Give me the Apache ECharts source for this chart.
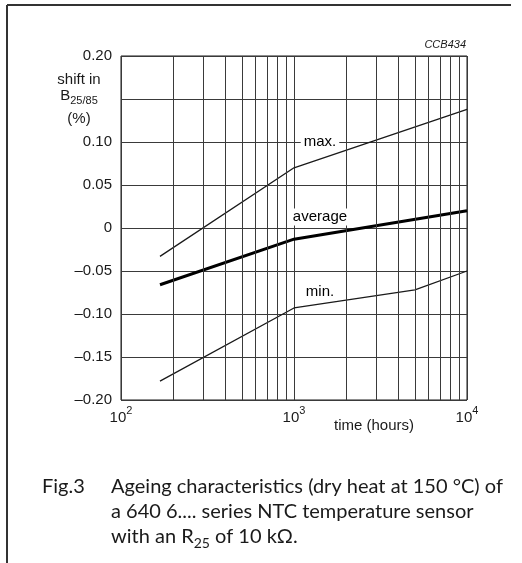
<!DOCTYPE html>
<html>
<head>
<meta charset="utf-8">
<script src="https://cdn.jsdelivr.net/npm/echarts@6/dist/echarts.min.js"></script>
<style>
  html, body { margin: 0; padding: 0; background: #fff; }
  #chart { width: 522px; height: 563px; }
</style>
</head>
<body>
<div id="chart"></div>
<script>
// values (time in hours, shift in %)
const maxHours = [168, 1000, 10000];
const maxShift = [-0.033, 0.070, 0.138];

const avgHours = [168, 1000, 10000];
const avgShift = [-0.066, -0.013, 0.020];

const minHours = [168, 1000, 5000, 10000];
const minShift = [-0.178, -0.093, -0.072, -0.050];

// log-paper minor grid lines
const minorGridHours = [200, 300, 400, 500, 600, 700, 800, 900,
  2000, 3000, 4000, 5000, 6000, 7000, 8000, 9000];

// the 0.15 tick is left unlabelled (axis title sits there)
const hiddenYTicks = [0.15];

const curveLabels = [
  { name: 'max.', hours: 1413, shift: 0.100 },
  { name: 'average', hours: 1413, shift: 0.0128 },
  { name: 'min.', hours: 1413, shift: -0.0744 }
];

const INK = '#1a1a1a';
const GRID = '#3a3a3a';
const SANS = '"Liberation Sans", Arial, sans-serif';
const CAPTION = 'Lato, sans-serif';

const chart = echarts.init(document.getElementById('chart'));

function pairs(xs, ys) {
  return xs.map((x, i) => [x, ys[i]]);
}

const option = {
  animation: false,
  backgroundColor: '#fff',
  grid: {
    left: 121,
    right: 55,
    top: 56,
    bottom: 163,
    show: true,
    borderColor: INK,
    borderWidth: 1
  },
  xAxis: {
    type: 'log',
    logBase: 10,
    min: 100,
    max: 10000,
    interval: 1,
    axisLine: { show: false },
    axisTick: { show: false },
    splitLine: { show: true, lineStyle: { color: GRID, width: 1 } },
    axisLabel: {
      margin: 5,
      color: INK,
      formatter: v => '{b|10}{s|' + Math.round(Math.log10(v)) + '}',
      rich: {
        b: { fontFamily: SANS, fontSize: 15, lineHeight: 20, verticalAlign: 'bottom', color: INK },
        s: { fontFamily: SANS, fontSize: 11, lineHeight: 13, verticalAlign: 'top', color: INK }
      }
    }
  },
  yAxis: {
    type: 'value',
    min: -0.2,
    max: 0.2,
    interval: 0.05,
    axisLine: { show: false },
    axisTick: { show: false },
    splitLine: { show: true, lineStyle: { color: GRID, width: 1 } },
    axisLabel: {
      margin: 9,
      color: INK,
      fontFamily: SANS,
      fontSize: 15,
      formatter: v => {
        if (hiddenYTicks.some(h => Math.abs(h - v) < 1e-9)) return '';
        if (Math.abs(v) < 1e-9) return '0';
        return (v < 0 ? '\u2013' : '') + Math.abs(v).toFixed(2);
      }
    }
  },
  series: [
    {
      name: 'grid',
      type: 'line',
      data: [],
      z: 1,
      silent: true,
      markLine: {
        silent: true,
        symbol: 'none',
        label: { show: false },
        lineStyle: { color: GRID, width: 1, type: 'solid' },
        data: minorGridHours.map(h => ({ xAxis: h }))
      }
    },
    {
      name: 'max.',
      type: 'line',
      data: pairs(maxHours, maxShift),
      showSymbol: false,
      z: 3,
      lineStyle: { color: INK, width: 1.3 }
    },
    {
      name: 'average',
      type: 'line',
      data: pairs(avgHours, avgShift),
      showSymbol: false,
      z: 3,
      lineStyle: { color: '#000', width: 3 }
    },
    {
      name: 'min.',
      type: 'line',
      data: pairs(minHours, minShift),
      showSymbol: false,
      z: 3,
      lineStyle: { color: INK, width: 1.3 }
    },
    {
      name: 'labels',
      type: 'scatter',
      symbolSize: 0,
      z: 5,
      silent: true,
      itemStyle: { opacity: 1 },
      data: curveLabels.map(d => ({ name: d.name, value: [d.hours, d.shift] })),
      label: {
        show: true,
        position: 'inside',
        formatter: p => p.name,
        color: '#000',
        opacity: 1,
        fontFamily: SANS,
        fontSize: 15,
        backgroundColor: '#fff',
        padding: [1, 3]
      }
    }
  ],
  graphic: [
    // figure frame (top and left edges)
    { type: 'line', shape: { x1: 7, y1: 5, x2: 511, y2: 5 }, style: { stroke: '#333', lineWidth: 2 } },
    { type: 'line', shape: { x1: 7, y1: 5, x2: 7, y2: 563 }, style: { stroke: '#333', lineWidth: 2 } },
    {
      type: 'text', x: 466, y: 45,
      style: { text: 'CCB434', font: 'italic 11px ' + SANS, fill: INK, align: 'right', verticalAlign: 'middle' }
    },
    {
      type: 'text', x: 79, y: 80,
      style: { text: 'shift in', font: '15px ' + SANS, fill: INK, align: 'center', verticalAlign: 'middle' }
    },
    {
      type: 'text', x: 79, y: 101,
      style: {
        text: '{b|B}{s|25/85}',
        align: 'center', verticalAlign: 'middle',
        rich: {
          b: { fontFamily: SANS, fontSize: 15, lineHeight: 16, verticalAlign: 'top', fill: INK },
          s: { fontFamily: SANS, fontSize: 11, lineHeight: 26, verticalAlign: 'middle', fill: INK }
        }
      }
    },
    {
      type: 'text', x: 79, y: 119,
      style: { text: '(%)', font: '15px ' + SANS, fill: INK, align: 'center', verticalAlign: 'middle' }
    },
    {
      type: 'text', x: 374, y: 426,
      style: { text: 'time (hours)', font: '15px ' + SANS, fill: INK, align: 'center', verticalAlign: 'middle' }
    },
    // caption
    {
      type: 'text', x: 42, y: 487,
      style: { text: 'Fig.3', font: '20px ' + CAPTION, fill: INK, verticalAlign: 'middle' }
    },
    {
      type: 'text', x: 111, y: 487,
      style: { text: 'Ageing characteristics (dry heat at 150 \u00b0C) of', font: '20px ' + CAPTION, fill: INK, verticalAlign: 'middle' }
    },
    {
      type: 'text', x: 111, y: 512,
      style: { text: 'a 640 6.... series NTC temperature sensor', font: '20px ' + CAPTION, fill: INK, verticalAlign: 'middle' }
    },
    {
      type: 'text', x: 111, y: 543,
      style: {
        text: '{r|with an R}{s|25}{r| of 10 k\u03a9.}',
        verticalAlign: 'middle',
        rich: {
          r: { fontFamily: CAPTION, fontSize: 20, lineHeight: 22, verticalAlign: 'top', fill: INK },
          s: { fontFamily: CAPTION, fontSize: 14, lineHeight: 32, verticalAlign: 'middle', fill: INK }
        }
      }
    }
  ]
};

chart.setOption(option);
</script>
</body>
</html>
